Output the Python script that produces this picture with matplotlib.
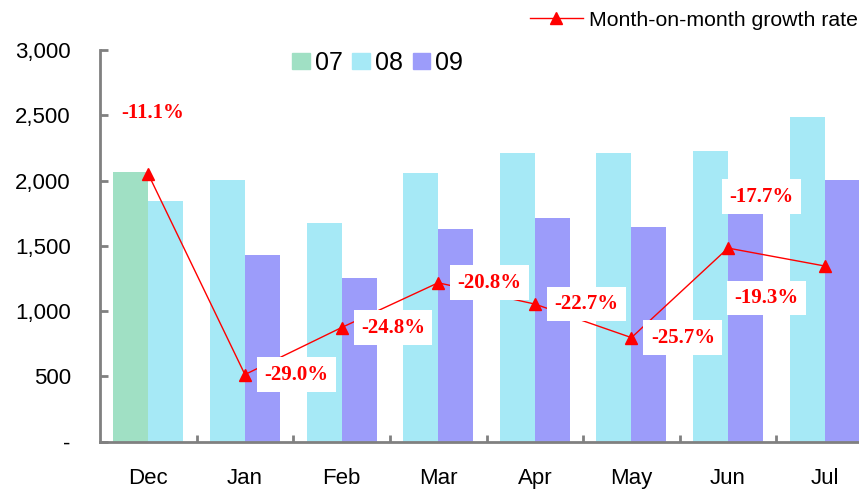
import matplotlib.pyplot as plt
import matplotlib.patches as mpatches
from matplotlib.lines import Line2D
import numpy as np

months = ['Dec', 'Jan', 'Feb', 'Mar', 'Apr', 'May', 'Jun', 'Jul']
# left bar: 07 for Dec, 08 for the other months; right bar: 08 for Dec, 09 otherwise
left_vals = [2065, 2004, 1677, 2058, 2211, 2211, 2226, 2487]
right_vals = [1843, 1430, 1254, 1629, 1713, 1644, 1759, 2004]
growth = [-11.1, -29.0, -24.8, -20.8, -22.7, -25.7, -17.7, -19.3]
growth_labels = ['-11.1%', '-29.0%', '-24.8%', '-20.8%', '-22.7%', '-25.7%', '-17.7%', '-19.3%']

c07 = '#A0E0C4'
c08 = '#A6E9F6'
c09 = '#9C9CFA'
grey = '#808080'

plt.rcParams['font.family'] = ['Liberation Sans', 'DejaVu Sans']

fig = plt.figure(figsize=(8.59, 4.9), dpi=100)
ax = fig.add_axes([100/859, 48.3/490, 773/859, 391.7/490])

x = np.arange(len(months))
w = 0.362
left_colors = [c07] + [c08] * (len(months) - 1)
right_colors = [c08] + [c09] * (len(months) - 1)
ax.bar(x - w/2, left_vals, w, color=left_colors, zorder=2)
ax.bar(x + w/2, right_vals, w, color=right_colors, zorder=2)

ax.set_xlim(-0.5, len(months) - 0.5)
ax.set_ylim(0, 3000)
ax.set_yticks([0, 500, 1000, 1500, 2000, 2500, 3000])
ax.set_yticklabels(['-', '500', '1,000', '1,500', '2,000', '2,500', '3,000'], fontsize=16)
ax.set_xticks(x)
ax.set_xticklabels(months, fontsize=16)
ax.set_xticks(np.arange(len(months)) + 0.5, minor=True)

for s in ['top', 'right']:
    ax.spines[s].set_visible(False)
for s in ['left', 'bottom']:
    ax.spines[s].set_color(grey)
    ax.spines[s].set_linewidth(2)
ax.tick_params(axis='y', direction='in', length=6, width=2, color=grey, pad=21)
ax.tick_params(axis='x', which='major', length=0, pad=19)
ax.tick_params(axis='x', which='minor', direction='in', length=5, width=2, color=grey)

# growth rate on hidden secondary axis
ax2 = ax.twinx()
ax2.set_ylim(-35, 0)
ax2.axis('off')
ax2.plot(x, growth, color='red', lw=1, marker='^', markersize=8, zorder=3)

offsets = [(3, 44), (37, 0), (37, 0), (37, 0), (37, 0), (37, 0), (24, 37), (-42, -23)]
for xi, g, lab, off in zip(x, growth, growth_labels, offsets):
    box = None if xi == 0 else dict(boxstyle='square,pad=0.35', fc='white', ec='none')
    ax2.annotate(lab, (xi, g), xytext=off, textcoords='offset points',
                 ha='center', va='center', color='red', fontsize=15,
                 fontweight='bold', family='Liberation Serif', bbox=box, zorder=4)

handles = [mpatches.Patch(color=c07), mpatches.Patch(color=c08), mpatches.Patch(color=c09)]
fig.legend(handles, ['07', '08', '09'], loc='center left', bbox_to_anchor=(292/859, 1 - 63/490),
           ncol=3, frameon=False, fontsize=18, handlelength=0.7, handleheight=0.6,
           handletextpad=0.2, columnspacing=0.4, borderpad=0, borderaxespad=0)

line_h = Line2D([], [], color='red', lw=1, marker='^', markersize=8)
fig.legend([line_h], ['Month-on-month growth rate'], loc='center right',
           bbox_to_anchor=(858/859, 1 - 20/490), frameon=False, fontsize=15.3,
           handlelength=2.5, handletextpad=0.3, borderpad=0, borderaxespad=0)

fig.savefig('out.png', dpi=100)
